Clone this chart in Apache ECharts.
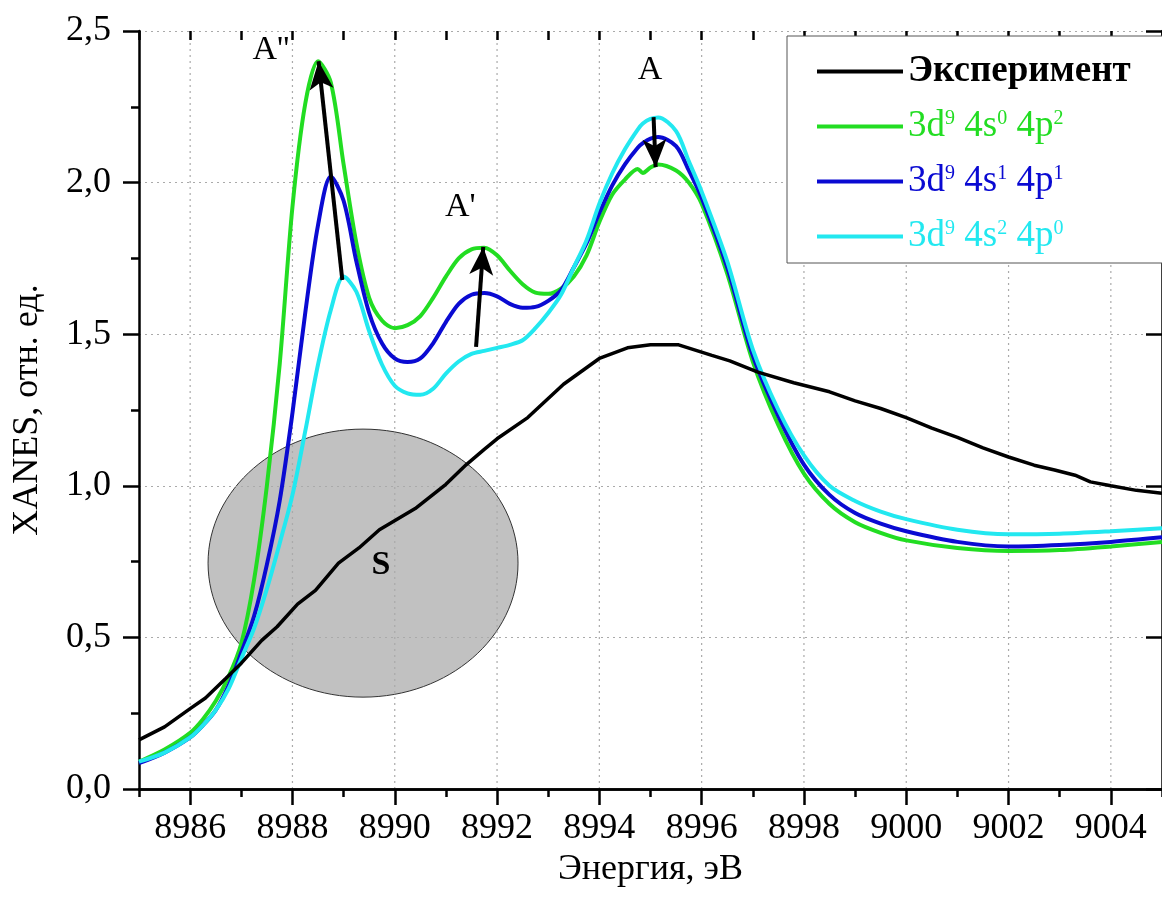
<!DOCTYPE html>
<html>
<head>
<meta charset="utf-8">
<script src="https://cdn.jsdelivr.net/npm/echarts@6/dist/echarts.min.js"></script>
<style>html,body{margin:0;padding:0;background:#fff}#main{width:1162px;height:916px}</style>
</head>
<body>
<div id="main"></div>
<script>
// энергия для расчётных кривых
var simX = [8985, 8985.5, 8986, 8986.25, 8986.5, 8986.75, 8987, 8987.25, 8987.5, 8987.75, 8988, 8988.25, 8988.5,
    8988.75, 8989, 8989.25, 8989.5, 8989.75, 8990, 8990.25, 8990.5, 8990.75, 8991, 8991.25, 8991.5, 8991.75,
    8992, 8992.25, 8992.5, 8992.75, 8993, 8993.25, 8993.5, 8993.75, 8994, 8994.25, 8994.5, 8994.75, 8994.85,
    8995, 8995.15, 8995.5, 8995.75, 8996, 8996.5, 8997, 8997.5, 8998, 8998.5, 8999, 8999.5, 9000, 9001,
    9002, 9003, 9004, 9005];
var green = [0.09, 0.13, 0.185, 0.23, 0.29, 0.37, 0.48, 0.69, 1.0, 1.40, 1.92, 2.26, 2.40,
    2.33, 2.06, 1.80, 1.62, 1.545, 1.52, 1.53, 1.56, 1.62, 1.69, 1.75, 1.78, 1.785,
    1.76, 1.71, 1.665, 1.637, 1.633, 1.65, 1.69, 1.76, 1.87, 1.96, 2.01, 2.045, 2.032,
    2.05, 2.06, 2.04, 2.0, 1.93, 1.70, 1.41, 1.20, 1.04, 0.94, 0.88, 0.845, 0.82, 0.795,
    0.785, 0.788, 0.80, 0.815];
var blue = [0.085, 0.12, 0.17, 0.21, 0.26, 0.34, 0.45, 0.57, 0.74, 0.95, 1.24, 1.57, 1.86,
    2.02, 1.94, 1.74, 1.57, 1.47, 1.42, 1.408, 1.42, 1.47, 1.54, 1.60, 1.63, 1.636,
    1.625, 1.60, 1.587, 1.59, 1.61, 1.645, 1.72, 1.80, 1.90, 1.99, 2.06, 2.115, 2.13,
    2.145, 2.15, 2.12, 2.04, 1.95, 1.72, 1.43, 1.23, 1.07, 0.97, 0.91, 0.875, 0.85, 0.815,
    0.80, 0.805, 0.815, 0.83];
var cyan = [0.09, 0.12, 0.17, 0.21, 0.26, 0.33, 0.43, 0.53, 0.66, 0.81, 0.97, 1.18, 1.40,
    1.58, 1.69, 1.64, 1.51, 1.40, 1.33, 1.305, 1.30, 1.32, 1.37, 1.41, 1.435, 1.445,
    1.455, 1.465, 1.48, 1.52, 1.57, 1.63, 1.72, 1.81, 1.93, 2.03, 2.11, 2.175, 2.195,
    2.21, 2.215, 2.17, 2.07, 1.97, 1.74, 1.45, 1.25, 1.10, 1.00, 0.95, 0.915, 0.89, 0.855,
    0.84, 0.842, 0.85, 0.86];

// эксперимент
var expX = [8985, 8985.5, 8986, 8986.3, 8986.7, 8987, 8987.4, 8987.7, 8988.1, 8988.45, 8988.9, 8989.3, 8989.7,
    8990.4, 8991, 8991.4, 8991.75, 8992, 8992.6, 8993.3, 8994, 8994.55, 8995, 8995.55, 8996.2, 8996.55,
    8997.1, 8997.8, 8998.5, 8999, 8999.5, 9000, 9000.5, 9001, 9001.5, 9002, 9002.5, 9002.9, 9003.3,
    9003.6, 9004, 9004.5, 9005];
var expY = [0.162, 0.205, 0.265, 0.30, 0.365, 0.415, 0.49, 0.535, 0.61, 0.655, 0.745, 0.795, 0.855,
    0.925, 1.005, 1.07, 1.12, 1.155, 1.225, 1.335, 1.42, 1.455, 1.465, 1.465, 1.43, 1.412,
    1.375, 1.34, 1.31, 1.28, 1.255, 1.225, 1.19, 1.16, 1.125, 1.095, 1.068, 1.052, 1.035,
    1.013, 1.0, 0.985, 0.975];

var xTicks = [8986, 8988, 8990, 8992, 8994, 8996, 8998, 9000, 9002, 9004];

// стрелки [x1, y1, x2, y2]
var arrows = [
    [8988.975, 1.679, 8988.51, 2.40],
    [8991.59, 1.458, 8991.73, 1.788],
    [8995.06, 2.216, 8995.10, 2.051]
];
var peakLabels = [
    {text: "A''", x: 8987.58, y: 2.437},
    {text: "A'", x: 8991.28, y: 1.92},
    {text: "A", x: 8994.99, y: 2.371}
];

var names = ['Эксперимент', 'g', 'b', 'c'];
var colors = ['#000000', '#22dd22', '#0a0ad2', '#22e8f0'];
var FONT = 'Liberation Serif';

function pairs(xs, ys) {
    return xs.map(function (x, i) { return [x, ys[i]]; });
}

var chartDom = document.getElementById('main');
var myChart = echarts.init(chartDom);
var option;

var axisFont = {fontFamily: FONT, fontSize: 36, color: '#000'};
var blackLine = {lineStyle: {color: '#000', width: 2.5}};
var gridDots = {color: '#aaa', width: 1.2, type: [2, 4]};
var supStyle = function (col) {
    return {fontFamily: FONT, fontSize: 20, color: col, verticalAlign: 'top', lineHeight: 4};
};

option = {
    animation: false,
    backgroundColor: '#fff',
    grid: {left: 139, top: 31, right: -9, bottom: 127},
    legend: {
        orient: 'vertical',
        left: 787,
        top: 36,
        padding: [17, 90, 8, 30],
        itemGap: 18,
        itemWidth: 86,
        itemHeight: 4,
        icon: 'rect',
        borderColor: '#555',
        borderWidth: 1,
        backgroundColor: '#fff',
        textStyle: {
            fontFamily: FONT, fontSize: 37, lineHeight: 36,
            rich: {g: supStyle(colors[1]), b: supStyle(colors[2]), c: supStyle(colors[3])}
        },
        formatter: function (n) {
            if (n === 'g') return '3d{g|9} 4s{g|0} 4p{g|2}';
            if (n === 'b') return '3d{b|9} 4s{b|1} 4p{b|1}';
            if (n === 'c') return '3d{c|9} 4s{c|2} 4p{c|0}';
            return n;
        },
        data: [
            {name: names[0], textStyle: {color: colors[0], fontWeight: 'bold'}},
            {name: names[1], textStyle: {color: colors[1]}},
            {name: names[2], textStyle: {color: colors[2]}},
            {name: names[3], textStyle: {color: colors[3]}}
        ]
    },
    xAxis: [{
        type: 'value', min: 8985, max: 9005, interval: 1, position: 'bottom',
        name: 'Энергия, эВ', nameLocation: 'middle', nameGap: 52,
        nameTextStyle: axisFont,
        axisLine: blackLine,
        axisTick: {length: 16, customValues: xTicks, lineStyle: {width: 2.5, color: '#000'}},
        axisLabel: Object.assign({margin: 22, customValues: xTicks, formatter: function (v) {
            return String(v);
        }}, axisFont),
        splitLine: {show: false}
    }, {
        type: 'value', min: 8985, max: 9005, interval: 1, position: 'top',
        axisLine: blackLine,
        axisTick: {inside: true, length: 16, customValues: xTicks, lineStyle: {width: 2.5, color: '#000'}},
        axisLabel: {show: false},
        splitLine: {show: false}
    }, {
        type: 'value', min: 8985, max: 9005, interval: 1, position: 'bottom',
        axisLine: {show: false},
        axisTick: {length: 8, lineStyle: {width: 2.5, color: '#000'}},
        axisLabel: {show: false},
        splitLine: {show: false}
    }, {
        type: 'value', min: 8985, max: 9005, interval: 1, position: 'top',
        axisLine: {show: false},
        axisTick: {inside: true, length: 9, lineStyle: {width: 2.5, color: '#000'}},
        axisLabel: {show: false},
        splitLine: {show: false}
    }],
    yAxis: [{
        type: 'value', min: 0, max: 2.5, interval: 0.5,
        name: 'XANES, отн. ед.', nameLocation: 'middle', nameGap: 93,
        nameTextStyle: axisFont,
        axisLine: blackLine,
        axisTick: {length: 16, lineStyle: {width: 2.5, color: '#000'}},
        minorTick: {show: true, splitNumber: 2, length: 8, lineStyle: {width: 2.5, color: '#000'}},
        axisLabel: Object.assign({margin: 28, formatter: function (v) {
            return v.toFixed(1).replace('.', ',');
        }}, axisFont),
        splitLine: {show: true, lineStyle: gridDots}
    }, {
        type: 'value', min: 0, max: 2.5, interval: 0.5, position: 'right',
        axisLine: blackLine,
        axisTick: {inside: true, length: 16, lineStyle: {width: 2.5, color: '#000'}},
        axisLabel: {show: false},
        splitLine: {show: false}
    }],
    series: [
        {
            name: names[0], type: 'line', data: pairs(expX, expY), symbol: 'none',
            lineStyle: {color: colors[0], width: 3.5}, itemStyle: {color: colors[0]}, z: 5,
            markLine: {
                silent: true, symbol: ['none', 'arrow'], symbolSize: [18, 28],
                label: {show: false},
                lineStyle: {color: '#000', width: 4, type: 'solid'},
                data: arrows.map(function (a) {
                    return [{coord: [a[0], a[1]]}, {coord: [a[2], a[3]]}];
                })
            }
        },
        {name: names[1], type: 'line', data: pairs(simX, green), symbol: 'none', smooth: 0.3,
            lineStyle: {color: colors[1], width: 4}, itemStyle: {color: colors[1]}},
        {name: names[2], type: 'line', data: pairs(simX, blue), symbol: 'none', smooth: 0.3,
            lineStyle: {color: colors[2], width: 4}, itemStyle: {color: colors[2]}},
        {name: names[3], type: 'line', data: pairs(simX, cyan), symbol: 'none', smooth: 0.3,
            lineStyle: {color: colors[3], width: 4}, itemStyle: {color: colors[3]}}
    ]
};

option && myChart.setOption(option);

// вертикальные пунктирные линии сетки на подписанных делениях
var yTop = myChart.convertToPixel({yAxisIndex: 0}, 2.5);
var yBot = myChart.convertToPixel({yAxisIndex: 0}, 0);
var elements = xTicks.map(function (x) {
    var px = myChart.convertToPixel({xAxisIndex: 0}, x);
    return {type: 'line', z: -2, silent: true,
        shape: {x1: px, y1: yTop, x2: px, y2: yBot},
        style: {stroke: gridDots.color, lineWidth: gridDots.width, lineDash: gridDots.type}};
});

// область S и подписи пиков
var c = myChart.convertToPixel({gridIndex: 0}, [8989.38, 0.745]);
var e = myChart.convertToPixel({gridIndex: 0}, [8989.38 + 3.03, 0.745 + 0.442]);
var sPos = myChart.convertToPixel({gridIndex: 0}, [8989.73, 0.739]);
elements.push({type: 'ellipse', z: -3, silent: true,
    shape: {cx: c[0], cy: c[1], rx: e[0] - c[0], ry: c[1] - e[1]},
    style: {fill: 'rgba(160,160,160,0.65)', stroke: '#333', lineWidth: 1}});
elements.push({type: 'text', z: 10, x: sPos[0], y: sPos[1],
    style: {text: 'S', font: 'bold 34px "Liberation Serif"', fill: '#000', align: 'center', verticalAlign: 'middle'}});
peakLabels.forEach(function (p) {
    var q = myChart.convertToPixel({gridIndex: 0}, [p.x, p.y]);
    elements.push({type: 'text', z: 10, x: q[0], y: q[1],
        style: {text: p.text, font: '34px "Liberation Serif"', fill: '#000', align: 'center', verticalAlign: 'middle'}});
});
myChart.setOption({graphic: {elements: elements}});
</script>
</body>
</html>
